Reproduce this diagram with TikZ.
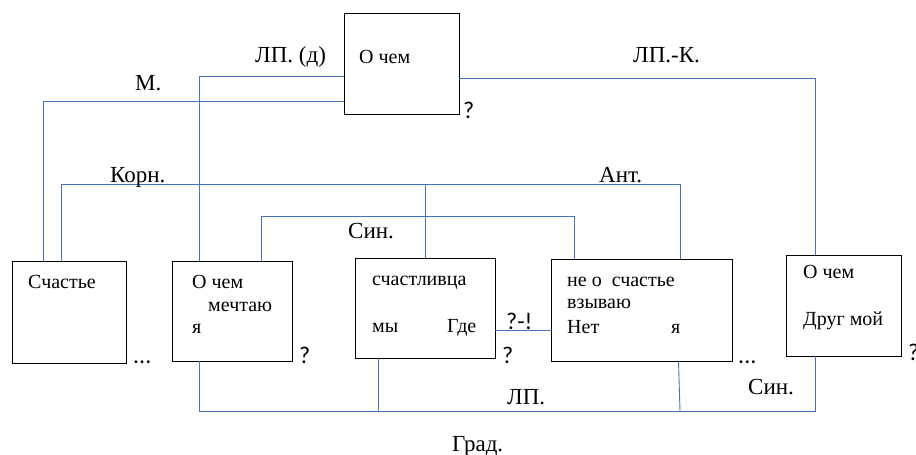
\documentclass[tikz,border=0pt]{standalone}
\usepackage{fontspec}
\setmainfont{Liberation Serif}
\newfontfamily\markfont{Carlito}
\definecolor{linkblue}{HTML}{4472C4}
\tikzset{
  wordbox/.style={draw=black, line width=0.9pt, inner sep=0pt},
  link/.style={draw=linkblue, line width=0.9pt},
  boxtext/.style={anchor=base west, inner sep=0pt, font=\fontsize{20}{24}\selectfont},
  reltext/.style={anchor=base west, inner sep=0pt, font=\fontsize{23}{27}\selectfont},
  marktext/.style={anchor=base west, inner sep=0pt, font=\markfont\fontsize{24}{28}\selectfont}
}
\begin{document}
\begin{tikzpicture}[x=1pt,y=-1pt]
\useasboundingbox (0,0) rectangle (916,455);

% boxes
\node[wordbox, minimum width=115pt, minimum height=101pt] (top)    at (401.5,63.5) {};
\node[wordbox, minimum width=114pt, minimum height=102pt] (sch)    at (69,312) {};
\node[wordbox, minimum width=120pt, minimum height=100pt] (dream)  at (232,311) {};
\node[wordbox, minimum width=140pt, minimum height=100pt] (luck)   at (425,308) {};
\node[wordbox, minimum width=181pt, minimum height=102pt] (call)   at (641.5,310) {};
\node[wordbox, minimum width=115pt, minimum height=101pt] (friend) at (843.5,305.5) {};

% words inside the boxes
\node[boxtext] (t0) at (359,63) {О чем};
\node[boxtext] (t1) at (28,288) {Счастье};
\node[boxtext] (t2) at (192,288) {О чем};
\node[boxtext] (t3) at (208,311) {мечтаю};
\node[boxtext] (t4) at (192,333) {я};
\node[boxtext] (t5) at (372,285) {счастливца};
\node[boxtext] (t6) at (372,332) {мы};
\node[boxtext] (t7) at (447,332) {Где};
\node[boxtext] (t8) at (567,286) {не о\ \ счастье};
\node[boxtext] (t9) at (567,308) {взываю};
\node[boxtext] (t10) at (567,333) {Нет};
\node[boxtext] (t11) at (671,333) {я};
\node[boxtext] (t12) at (803,278) {О чем};
\node[boxtext] (t13) at (803,325) {Друг мой};

% junction points of the connectors
\coordinate (m)   at (43,101);
\coordinate (lpd) at (199,76);
\coordinate (lpk) at (815,78);
\coordinate (k1)  at (61,184);
\coordinate (k2)  at (680,184);
\coordinate (k3)  at (425,184);
\coordinate (s1)  at (261,216);
\coordinate (s2)  at (574,216);
\coordinate (q)   at (0,330);
\coordinate (g1)  at (199,411);
\coordinate (g2)  at (815,411);
\coordinate (g3)  at (378,411);
\coordinate (g4)  at (680,411);
\coordinate (g4t) at (678.5,0);

% connectors
\draw[link] (top.west |- m) -| (sch.north -| m);
\draw[link] (top.west |- lpd) -| (dream.north -| lpd);
\draw[link] (top.east |- lpk) -| (friend.north -| lpk);
\draw[link] (sch.north -| k1) |- (k2) -- (call.north -| k2);
\draw[link] (k3) -- (luck.north -| k3);
\draw[link] (dream.north -| s1) |- (s2) -- (call.north -| s2);
\draw[link] (luck.east |- q) -- (call.west |- q);
\draw[link] (dream.south -| g1) |- (g2) -- (friend.south -| g2);
\draw[link] (luck.south -| g3) -- (g3);
\draw[link] (call.south -| g4t) -- (g4);

% relation labels
\node[reltext] (r1) at (255,62) {ЛП. (д)};
\node[reltext] (r2) at (135,90) {М.};
\node[reltext] (r3) at (633,62) {ЛП.-К.};
\node[reltext] (r4) at (110,182) {Корн.};
\node[reltext] (r5) at (599,182) {Ант.};
\node[reltext] (r6) at (348,238) {Син.};
\node[reltext] (r7) at (507,404) {ЛП.};
\node[reltext] (r8) at (748,394) {Син.};
\node[reltext] (r9) at (452,451) {Град.};

% punctuation marks
\node[marktext] (p1) at (463,118) {?};
\node[marktext] (p2) at (133,363) {...};
\node[marktext] (p3) at (299,363) {?};
\node[marktext] (p4) at (502,363) {?};
\node[marktext] (p5) at (506,329) {?-!};
\node[marktext] (p6) at (738,363) {...};
\node[marktext] (p7) at (908,360) {?};
\end{tikzpicture}
\end{document}
